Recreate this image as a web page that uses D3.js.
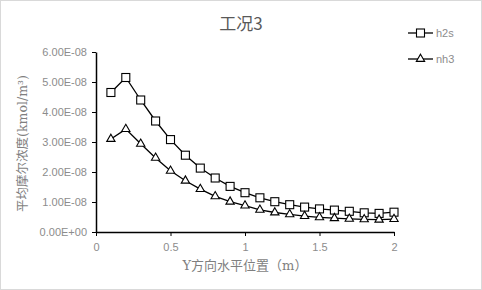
<!DOCTYPE html>
<html>
<head>
<meta charset="utf-8">
<script src="https://cdn.jsdelivr.net/npm/d3@7"></script>
<style>
  body { margin: 0; background: #fff; }
  text { font-family: Calibri, Carlito, "Liberation Sans", "Noto Sans CJK SC", sans-serif; }
</style>
</head>
<body>
<div id="chart"></div>
<script>
const width = 482;
const height = 290;

// x positions (m)
const positions = [0.1, 0.2, 0.3, 0.4, 0.5, 0.6, 0.7, 0.8, 0.9, 1.0,
  1.1, 1.2, 1.3, 1.4, 1.5, 1.6, 1.7, 1.8, 1.9, 2.0];
// mean molar concentration, kmol/m3
const h2s = [4.65e-8, 5.15e-8, 4.4e-8, 3.7e-8, 3.08e-8, 2.56e-8, 2.13e-8, 1.8e-8, 1.52e-8, 1.31e-8,
  1.14e-8, 1.01e-8, 0.91e-8, 0.83e-8, 0.77e-8, 0.73e-8, 0.69e-8, 0.64e-8, 0.62e-8, 0.66e-8];
const nh3 = [3.1e-8, 3.43e-8, 2.94e-8, 2.47e-8, 2.04e-8, 1.71e-8, 1.43e-8, 1.19e-8, 1.01e-8, 0.88e-8,
  0.74e-8, 0.65e-8, 0.59e-8, 0.53e-8, 0.49e-8, 0.46e-8, 0.44e-8, 0.42e-8, 0.41e-8, 0.43e-8];
const xTicks = [0, 0.5, 1, 1.5, 2];
const yTicks = [0, 1e-8, 2e-8, 3e-8, 4e-8, 5e-8, 6e-8];

const margin = { top: 52, right: 88, bottom: 58, left: 96 };

const svg = d3.select('#chart')
  .append('svg')
  .attr('width', width)
  .attr('height', height);

// outer frame
svg.append('rect')
  .attr('x', 0.5).attr('y', 0.5)
  .attr('width', width - 1).attr('height', height - 1)
  .attr('fill', '#fff')
  .attr('stroke', '#d9d9d9');

const x = d3.scaleLinear().domain([0, 2]).range([margin.left, width - margin.right]);
const y = d3.scaleLinear().domain([0, 6e-8]).range([height - margin.bottom, margin.top]);

const fmt = (v) => {
  const s = v.toExponential(2).toUpperCase();
  const [m, e] = s.split('E');
  const n = parseInt(e, 10);
  return m + 'E' + (n < 0 ? '-' : '+') + String(Math.abs(n)).padStart(2, '0');
};

// axes
const xAxis = svg.append('g')
  .attr('transform', `translate(0,${y(0)})`)
  .call(d3.axisBottom(x).tickValues(xTicks).tickSize(4).tickSizeOuter(0).tickFormat(d3.format('')));
const yAxis = svg.append('g')
  .attr('transform', `translate(${x(0)},0)`)
  .call(d3.axisLeft(y).tickValues(yTicks).tickSize(4).tickSizeOuter(0).tickFormat(fmt));

[xAxis, yAxis].forEach((g) => {
  g.select('.domain').attr('stroke', '#000').attr('stroke-width', 1.5);
  g.selectAll('.tick line').attr('stroke', '#000');
  g.selectAll('.tick text')
    .attr('fill', '#8c8c8c')
    .attr('font-size', '11px')
    .style('font-family', '"Liberation Sans", Arial, sans-serif');
});
xAxis.selectAll('.tick text').attr('dy', '1.1em');
yAxis.selectAll('.tick text').attr('x', -9);

// title
svg.append('text')
  .attr('x', 241).attr('y', 30)
  .attr('text-anchor', 'middle')
  .attr('font-size', '17px')
  .attr('fill', '#595959')
  .style('font-family', '"Noto Sans CJK SC", sans-serif')
  .text('工况3');

// axis titles
svg.append('text')
  .attr('x', 245).attr('y', 270)
  .attr('text-anchor', 'middle')
  .attr('font-size', '13px')
  .attr('fill', '#7f7f7f')
  .style('font-family', '"DejaVu Serif", "Noto Sans CJK SC", serif')
  .text('Y方向水平位置（m）');

svg.append('text')
  .attr('transform', `translate(27,${y(2.95e-8)}) rotate(-90)`)
  .attr('text-anchor', 'middle')
  .attr('font-size', '12.5px')
  .attr('fill', '#7f7f7f')
  .style('font-family', '"DejaVu Serif", "Noto Sans CJK SC", serif')
  .text('平均摩尔浓度(kmol/m³)');

// series
const series = [
  { name: 'h2s', values: h2s, marker: 'square' },
  { name: 'nh3', values: nh3, marker: 'triangle' },
];

const line = d3.line()
  .x((d) => x(d[0]))
  .y((d) => y(d[1]));

const drawMarker = (g, type, cx, cy) => {
  if (type === 'square') {
    g.append('rect')
      .attr('x', cx - 4).attr('y', cy - 4)
      .attr('width', 8).attr('height', 8)
      .attr('fill', '#fff').attr('stroke', '#000').attr('stroke-width', 1.1);
  } else {
    const s = d3.symbol().type(d3.symbolTriangle).size(30);
    g.append('path')
      .attr('d', s())
      .attr('transform', `translate(${cx},${cy})`)
      .attr('fill', '#fff').attr('stroke', '#000').attr('stroke-width', 1.1);
  }
};

series.forEach((s) => {
  const pts = positions.map((p, i) => [p, s.values[i]]);
  svg.append('path')
    .datum(pts)
    .attr('fill', 'none')
    .attr('stroke', '#000')
    .attr('stroke-width', 1.3)
    .attr('d', line);
  const mg = svg.append('g');
  pts.forEach((d) => drawMarker(mg, s.marker, x(d[0]), y(d[1])));
});

// legend
const legend = svg.append('g');
series.forEach((s, i) => {
  const ly = 33 + i * 26;
  legend.append('line')
    .attr('x1', 408).attr('x2', 433)
    .attr('y1', ly).attr('y2', ly)
    .attr('stroke', '#000').attr('stroke-width', 1.3);
  drawMarker(legend, s.marker, 420.5, ly);
  legend.append('text')
    .attr('x', 436).attr('y', ly + 4)
    .attr('font-size', '11px')
    .attr('fill', '#8c8c8c')
    .style('font-family', '"Liberation Sans", Arial, sans-serif')
    .text(s.name);
});
</script>
</body>
</html>
